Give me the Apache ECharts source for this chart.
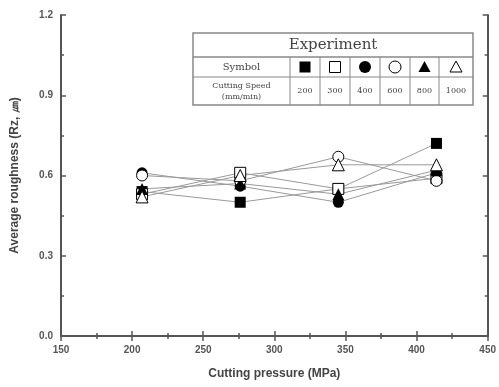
<!DOCTYPE html>
<html><head><meta charset="utf-8">
<script src="https://cdn.jsdelivr.net/npm/echarts@6/dist/echarts.min.js"></script>
<style>html,body{margin:0;padding:0;background:#fff}#c{width:499px;height:387px}</style>
</head><body><div id="c"></div>
<script>
const pressures = [207, 276, 345, 414];
const speeds = ['200', '300', '400', '600', '800', '1000'];
const r200 = [0.54, 0.50, 0.55, 0.72];
const r300 = [0.53, 0.61, 0.55, 0.59];
const r400 = [0.61, 0.56, 0.50, 0.61];
const r600 = [0.60, 0.58, 0.67, 0.58];
const r800 = [0.55, 0.57, 0.53, 0.62];
const r1000 = [0.52, 0.60, 0.64, 0.64];
const xTicks = [150, 200, 250, 300, 350, 400, 450];
const yTicks = [0.0, 0.3, 0.6, 0.9, 1.2];

const styles = [
  {symbol:'rect', fill:'#000'},
  {symbol:'rect', fill:'#fff'},
  {symbol:'circle', fill:'#000'},
  {symbol:'circle', fill:'#fff'},
  {symbol:'triangle', fill:'#000'},
  {symbol:'triangle', fill:'#fff'}
];
const values = [r200, r300, r400, r600, r800, r1000];

const chart = echarts.init(document.getElementById('c'));
const axisCommon = {
  axisLine:{lineStyle:{color:'#555', width:2}},
  axisTick:{inside:true, length:5, lineStyle:{color:'#555', width:1.5}},
  minorTick:{show:true, splitNumber:2, length:3, lineStyle:{color:'#555', width:1.5}},
  splitLine:{show:false}
};
const series = values.map((v, i) => ({
  type:'line',
  name: speeds[i],
  data: pressures.map((p, j) => [p, v[j]]),
  symbol: styles[i].symbol,
  symbolSize: styles[i].symbol === 'triangle' ? 12 : 11,
  lineStyle:{color:'#999', width:1},
  itemStyle:{color: styles[i].fill, borderColor:'#000', borderWidth: styles[i].fill === '#fff' ? 1 : 0},
  z: 3
}));

// table
const tL = 193, tT = 33, tR = 473, tB = 105;
const r1 = 57, r2 = 77;
const cols = [193, 290, 320, 350, 380, 410, 439, 473];
const g = [];
g.push({type:'rect', shape:{x:tL, y:tT, width:tR-tL, height:tB-tT}, style:{fill:'#fff', stroke:'#888', lineWidth:1.5}, z:10});
g.push({type:'line', shape:{x1:tL, y1:r1, x2:tR, y2:r1}, style:{stroke:'#888', lineWidth:1.5}, z:11});
g.push({type:'line', shape:{x1:tL, y1:r2, x2:tR, y2:r2}, style:{stroke:'#888', lineWidth:1}, z:11});
for (let k = 1; k < cols.length - 1; k++) {
  g.push({type:'line', shape:{x1:cols[k], y1:r1, x2:cols[k], y2:tB}, style:{stroke:'#888', lineWidth:1}, z:11});
}
const tf = '"DejaVu Serif", serif';
g.push({type:'text', x:(tL+tR)/2, y:(tT+r1)/2, style:{text:'Experiment', font:'15px ' + tf, fill:'#444', align:'center', verticalAlign:'middle'}, z:12});
g.push({type:'text', x:(cols[0]+cols[1])/2, y:(r1+r2)/2, style:{text:'Symbol', font:'10px ' + tf, fill:'#444', align:'center', verticalAlign:'middle'}, z:12});
g.push({type:'text', x:(cols[0]+cols[1])/2, y:(r2+tB)/2, style:{text:'Cutting Speed\n(mm/min)', font:'8px ' + tf, fill:'#444', align:'center', verticalAlign:'middle', lineHeight:11}, z:12});
for (let k = 0; k < 6; k++) {
  const cx = (cols[k+1] + cols[k+2]) / 2, cy = (r1 + r2) / 2;
  const st = styles[k];
  const sty = {fill: st.fill, stroke:'#000', lineWidth: st.fill === '#fff' ? 1 : 0};
  if (st.symbol === 'rect') g.push({type:'rect', shape:{x:cx-5.5, y:cy-5.5, width:11, height:11}, style:sty, z:12});
  else if (st.symbol === 'circle') g.push({type:'circle', shape:{cx:cx, cy:cy, r:6}, style:sty, z:12});
  else g.push({type:'polygon', shape:{points:[[cx, cy-6],[cx+6, cy+5],[cx-6, cy+5]]}, style:sty, z:12});
  g.push({type:'text', x:cx, y:(r2+tB)/2, style:{text:speeds[k], font:'8px ' + tf, fill:'#444', align:'center', verticalAlign:'middle'}, z:12});
}

chart.setOption({
  animation:false,
  grid:{left:61, right:11, top:15, bottom:51},
  xAxis:[
    Object.assign({type:'value', min:xTicks[0], max:xTicks[xTicks.length-1], interval:50, position:'bottom',
      name:'Cutting pressure (MPa)', nameLocation:'middle', nameGap:32,
      nameTextStyle:{fontFamily:'Liberation Sans', fontWeight:'bold', fontSize:12, color:'#444'},
      axisLabel:{fontFamily:'Liberation Sans', fontWeight:'bold', fontSize:10, color:'#555', margin:9}}, axisCommon),
    Object.assign({type:'value', min:xTicks[0], max:xTicks[xTicks.length-1], interval:50, position:'top',
      axisLabel:{show:false}}, axisCommon)
  ],
  yAxis:[
    Object.assign({type:'value', min:yTicks[0], max:yTicks[yTicks.length-1], interval:0.3, position:'left',
      name:'Average roughness (Rz, ㎛)', nameLocation:'middle', nameGap:40, nameRotate:90,
      nameTextStyle:{fontFamily:'Liberation Sans', fontWeight:'bold', fontSize:12, color:'#444'},
      axisLabel:{fontFamily:'Liberation Sans', fontWeight:'bold', fontSize:10, color:'#555', margin:8,
        formatter:v => v.toFixed(1)}}, axisCommon),
    Object.assign({type:'value', min:yTicks[0], max:yTicks[yTicks.length-1], interval:0.3, position:'right',
      axisLabel:{show:false}}, axisCommon)
  ],
  series: series,
  graphic: g
});
</script></body></html>
